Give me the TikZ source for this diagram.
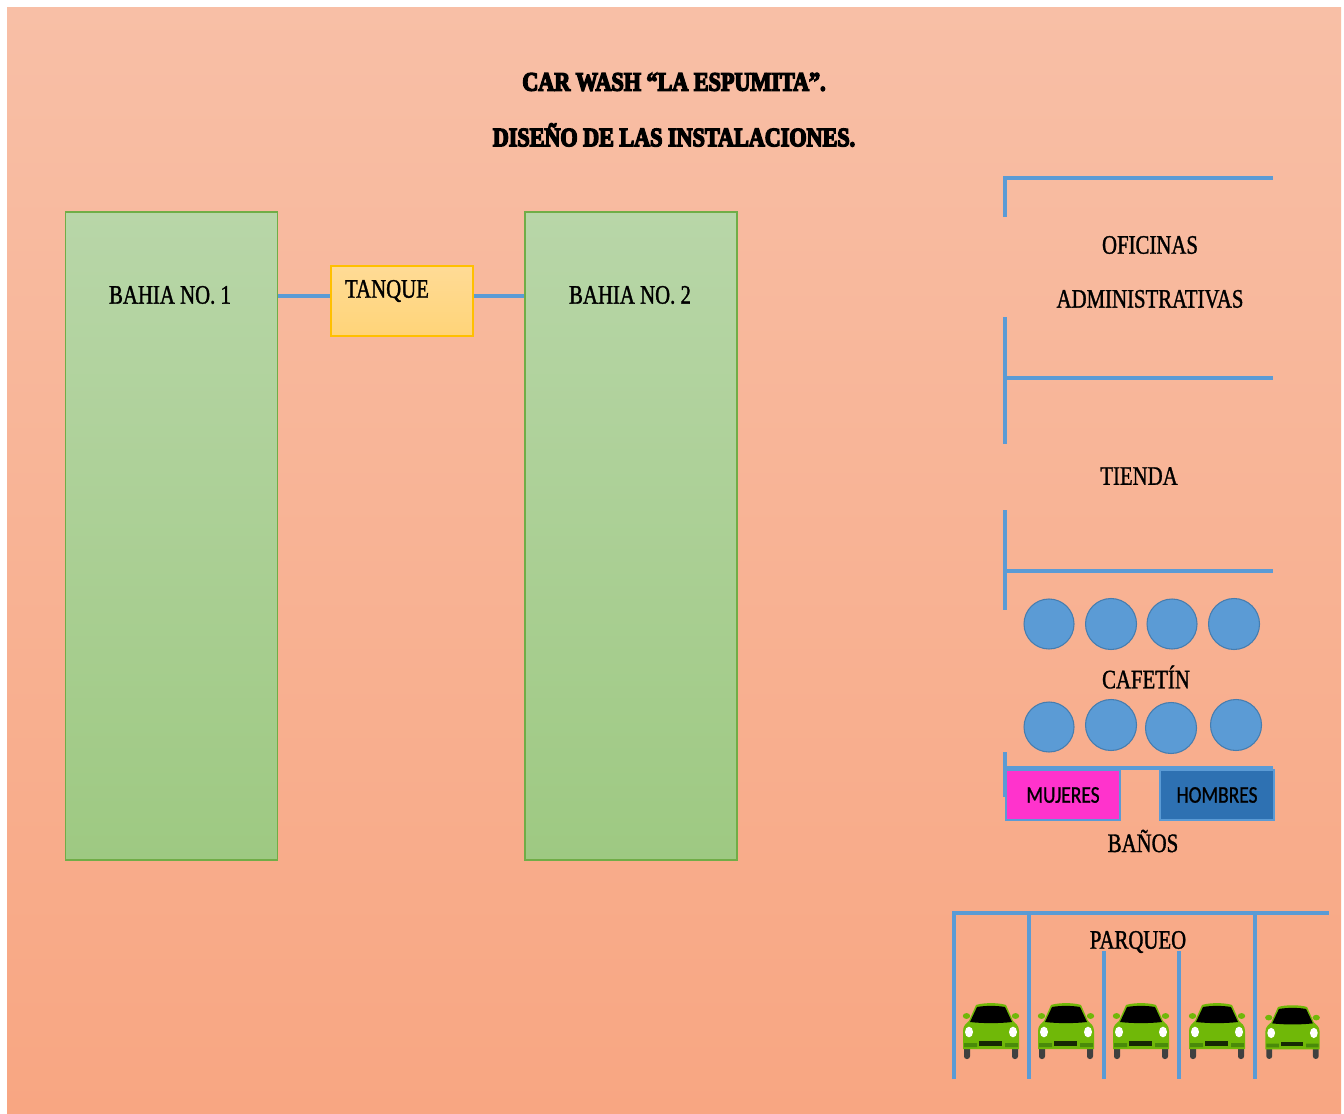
\documentclass[tikz,border=0pt]{standalone}
\usepackage{fontspec}
\setmainfont[FakeStretch=0.78,FakeBold=1.2]{Liberation Serif}
\newfontfamily\titlefont[FakeBold=5,FakeStretch=0.83]{Liberation Serif Bold}
\newfontfamily\boxfont[FakeStretch=0.81,FakeBold=0.8]{Carlito}
\definecolor{wallblue}{RGB}{91,155,213}
\definecolor{bayedge}{RGB}{112,173,71}
\definecolor{tankedge}{RGB}{255,192,0}
\definecolor{cargreen}{RGB}{112,184,8}
\definecolor{cardark}{RGB}{74,138,10}
\tikzset{
	wall/.style={draw=wallblue,line width=2.3pt},
	bay/.style={draw=bayedge,line width=0.9pt,top color={rgb,255:red,184;green,214;blue,168},bottom color={rgb,255:red,158;green,201;blue,130},minimum width=159pt,minimum height=486pt,inner sep=0pt},
	tank/.style={draw=tankedge,line width=1.3pt,top color={rgb,255:red,255;green,219;blue,150},bottom color={rgb,255:red,255;green,212;blue,120},minimum width=107pt,minimum height=53pt,inner sep=0pt},
	seat/.style={circle,draw={rgb,255:red,70;green,125;blue,175},line width=0.8pt,fill=wallblue,inner sep=0pt},
	room/.style={font=\fontsize{20}{22}\selectfont,inner sep=0pt},
	heading/.style={font=\titlefont\fontsize{20}{22}\selectfont,inner sep=0pt},
	stall/.style={draw=wallblue,line width=1.3pt,minimum width=85pt,minimum height=37pt,inner sep=0pt,font=\boxfont\fontsize{18}{20}\selectfont},
	car/.pic={
		\fill [black!75,rounded corners=2pt] (-27,14) rectangle (-21,28) (21,14) rectangle (27,28);
		\fill [cargreen] (-24.5,-15) ellipse (2.8pt and 2.2pt) (24.5,-15) ellipse (2.8pt and 2.2pt);
		\fill [cargreen] (-28,18) -- (-28,0) .. controls (-28,-6) and (-24,-8) .. (-22,-10) -- (-15,-26) .. controls (-8,-28.5) and (8,-28.5) .. (15,-26) -- (22,-10) .. controls (24,-8) and (28,-6) .. (28,0) -- (28,18) -- cycle;
		\fill [black] (-21,-9) -- (-14,-24) .. controls (-6,-25.5) and (6,-25.5) .. (14,-24) -- (21,-9) .. controls (8,-7.5) and (-8,-7.5) .. (-21,-9) -- cycle;
		\fill [white] (-22,1) ellipse (3pt and 4pt) (22,1) ellipse (3pt and 4pt);
		\fill [cardark] (-27,12) rectangle (-14,16) (14,12) rectangle (27,16);
		\fill [black!70!cardark] (-12,10) rectangle (11,15);
	}
}
\begin{document}
\begin{tikzpicture}[x=0.75pt,y=0.75pt,yscale=-1,xscale=1]
	\useasboundingbox (0,0) rectangle (1344,1113);
	\shade [top color={rgb,255:red,248;green,191;blue,166},bottom color={rgb,255:red,248;green,166;blue,130}] (7,8) rectangle (1341,1113);
	% bahias y tanque
	\node [bay] (bahia1) at (171.5,536) {};
	\node [bay] (bahia2) at (631,536) {};
	\node [tank] (tanque) at (402,301) {};
	\coordinate (pipe1) at (tanque.west |- 0,296);
	\coordinate (pipe2) at (tanque.east |- 0,296);
	\draw [wall] (bahia1.east |- pipe1) -- (pipe1);
	\draw [wall] (pipe2) -- (bahia2.west |- pipe2);
	% oficinas, tienda
	\draw [wall] (1005,217) -- (1005,178) -- (1273,178);
	\draw [wall] (1005,317) -- (1005,444);
	\draw [wall] (1005,378) -- (1273,378);
	\draw [wall] (1005,510) -- (1005,610);
	\draw [wall] (1005,571) -- (1273,571);
	% cafetin
	\foreach \cx/\cy/\cd [count=\i] in {1049/624/50,1111/624/51,1172/624/50,1234/624/51,1049/727/50,1111/725/51,1171/728/51,1236/725/51}
		\node [seat,minimum size=\cd*0.75pt] (mesa\i) at (\cx,\cy) {};
	% banos
	\draw [wall] (1005,752) -- (1005,797);
	\draw [wall] (1005,768) -- (1273,768);
	% parqueo
	\draw [wall] (954,1079) -- (954,913) -- (1329,913);
	\draw [wall] (1029,913) -- (1029,1079);
	\draw [wall] (1104,951) -- (1104,1079);
	\draw [wall] (1179,951) -- (1179,1079);
	\draw [wall] (1255,913) -- (1255,1079);
	\foreach \cx in {991,1066,1141,1217}
		\pic [yscale=-1] at (\cx,1031) {car};
	\pic [xscale=0.97,yscale=-0.96] at (1292.5,1032) {car};
	% textos
	\node [heading] (titulo) at (674,82) {CAR WASH “LA ESPUMITA”.};
	\node [heading] (subtitulo) at (674,135) {DISEÑO DE LAS INSTALACIONES.};
	\node [room] (labelbahia1) at (170,295) {BAHIA NO. 1};
	\node [room] (labelbahia2) at (630,295) {BAHIA NO. 2};
	\node [room] (labeltanque) at (387,291) {TANQUE};
	\node [room] (oficinas) at (1150,245) {OFICINAS};
	\node [room] (admin) at (1150,299) {ADMINISTRATIVAS};
	\node [room] (tienda) at (1139,476) {TIENDA};
	\node [room] (cafetin) at (1146,677) {CAFETÍN};
	\node [stall,fill={rgb,255:red,255;green,51;blue,204}] (mujeres) at (1063,795) {MUJERES};
	\node [stall,fill={rgb,255:red,46;green,113;blue,178}] (hombres) at (1217,795) {HOMBRES};
	\node [room] (banos) at (1143,841) {BAÑOS};
	\node [room] (parqueo) at (1138,942) {PARQUEO};
\end{tikzpicture}
\end{document}
